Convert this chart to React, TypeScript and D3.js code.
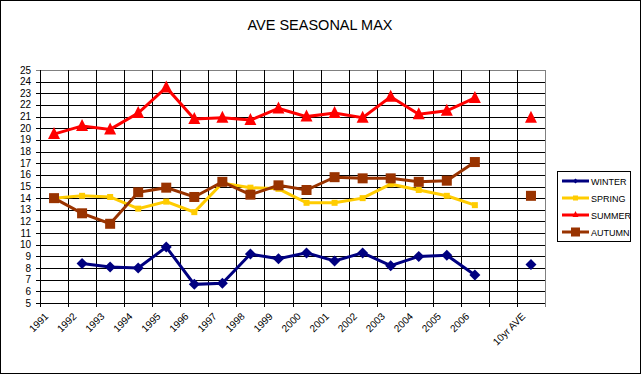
import React from "react";
import * as d3 from "d3";

const categories = ["1991","1992","1993","1994","1995","1996","1997","1998","1999","2000","2001","2002","2003","2004","2005","2006","","10yr AVE"];
const winter: (number | null)[] = [null,8.4,8.1,8.0,9.8,6.6,6.7,9.2,8.8,9.3,8.6,9.3,8.2,9.0,9.1,7.4,null,8.3];
const spring: (number | null)[] = [14.0,14.2,14.1,13.1,13.7,12.8,15.3,14.9,14.8,13.6,13.6,14.0,15.2,14.7,14.2,13.4,null,null];
const summer: (number | null)[] = [19.5,20.2,19.9,21.3,23.5,20.8,20.9,20.7,21.7,21.0,21.3,20.9,22.7,21.2,21.5,22.6,null,20.9];
const autumn: (number | null)[] = [14.0,12.7,11.8,14.5,14.9,14.1,15.4,14.3,15.1,14.7,15.8,15.7,15.7,15.4,15.5,17.1,null,14.2];
const yTicks = d3.range(5, 26, 1);
const title = "AVE SEASONAL MAX";

type Series = { name: string; values: (number | null)[]; color: string; marker: string; size: number; legendSize: number };
const series: Series[] = [
  { name: "WINTER", values: winter, color: "#000080", marker: "diamond", size: 11, legendSize: 5 },
  { name: "SPRING", values: spring, color: "#FFCC00", marker: "square", size: 6, legendSize: 5 },
  { name: "SUMMER", values: summer, color: "#FF0000", marker: "triangle", size: 12, legendSize: 6 },
  { name: "AUTUMN", values: autumn, color: "#993300", marker: "square", size: 10, legendSize: 9 },
];

const W = 642, H = 376;
const L = 40, R = 545, T = 70, B = 303;
const x = d3.scaleLinear().domain([0, categories.length]).range([L, R]);
const y = d3.scaleLinear().domain([5, 25]).range([B, T]);
const font = "'Liberation Sans', Arial, sans-serif";

function Marker({ type, cx, cy, size, color }: { type: string; cx: number; cy: number; size: number; color: string }) {
  const h = size / 2;
  if (type === "square") return <rect x={cx - h} y={cy - h} width={size} height={size} fill={color} />;
  if (type === "diamond") return <path d={`M${cx},${cy - h}L${cx + h},${cy}L${cx},${cy + h}L${cx - h},${cy}Z`} fill={color} />;
  return <path d={`M${cx},${cy - h - 1}L${cx + h},${cy + h - 1}L${cx - h},${cy + h - 1}Z`} fill={color} />;
}

export default function App() {
  const line = d3.line<number | null>()
    .defined((d) => d != null)
    .x((_, i) => x(i + 0.5))
    .y((d) => y(d as number));
  const px = (v: number) => Math.round(v) + 0.5;
  const legendY = [181, 198, 215, 232];
  return (
    <svg width={W} height={H} style={{ position: "absolute", left: 0, top: 0 }} fontFamily={font}>
      <rect x={0.5} y={0.5} width={W - 2} height={H - 3} fill="#fff" stroke="#000" />
      <text x={320} y={30} textAnchor="middle" fontSize={14.5}>{title}</text>
      {/* horizontal gridlines */}
      {yTicks.map((t) => (
        <line key={"h" + t} x1={36} x2={R} y1={px(y(t))} y2={px(y(t))} stroke={t === 25 ? "#808080" : "#000"} />
      ))}
      {/* vertical gridlines */}
      {d3.range(0, categories.length + 1).map((i) => (
        <line key={"v" + i} x1={px(x(i))} x2={px(x(i))} y1={T} y2={B + 4} stroke={i === categories.length ? "#808080" : "#000"} />
      ))}
      <line x1={px(R)} x2={px(R)} y1={T} y2={B} stroke="#808080" />
      <line x1={L} x2={R} y1={px(B)} y2={px(B)} stroke="#000" />
      <line x1={px(L)} x2={px(L)} y1={T} y2={B} stroke="#000" />
      {/* y labels */}
      {yTicks.map((t) => (
        <text key={"yl" + t} x={31} y={y(t) + 3.5} textAnchor="end" fontSize={10}>{t}</text>
      ))}
      {/* x labels */}
      {categories.map((c, i) => (
        <text key={"xl" + i} transform={`translate(${x(i + 0.5) - 5},${B + 14}) rotate(-45)`} textAnchor="end" fontSize={10}>{c}</text>
      ))}
      {/* series */}
      {series.map((s) => (
        <g key={s.name}>
          <path d={line(s.values) || ""} fill="none" stroke={s.color} strokeWidth={3} />
          {s.values.map((v, i) => v == null ? null : (
            <Marker key={i} type={s.marker} cx={x(i + 0.5)} cy={y(v)} size={s.size} color={s.color} />
          ))}
        </g>
      ))}
      {/* legend */}
      <rect x={557.5} y={171.5} width={73} height={70} fill="#fff" stroke="#000" />
      {series.map((s, i) => (
        <g key={"lg" + s.name}>
          <line x1={562} x2={589} y1={legendY[i]} y2={legendY[i]} stroke={s.color} strokeWidth={3} />
          <Marker type={s.marker} cx={575.5} cy={legendY[i]} size={s.legendSize} color={s.color} />
          <text x={591} y={legendY[i] + 3.5} fontSize={9}>{s.name}</text>
        </g>
      ))}
    </svg>
  );
}
